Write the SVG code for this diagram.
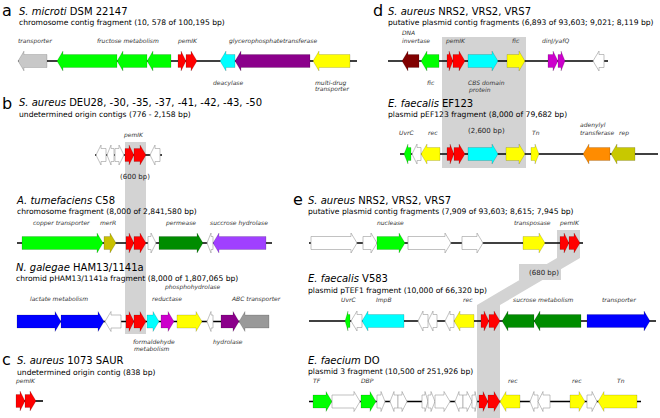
<svg xmlns="http://www.w3.org/2000/svg" width="660" height="418" viewBox="0 0 660 418">
<style>
text{font-family:"DejaVu Sans","Liberation Sans",sans-serif;}
.L{font-size:16px;fill:#000;}
.t{font-size:10px;fill:#000;}
.s{font-size:7.6px;fill:#000;}
.g{font-size:6px;font-style:italic;fill:#333;}
.bp{font-size:7px;fill:#222;}
.i{font-style:italic;}
.ln{stroke:#000;stroke-width:1.6;}
.band{fill:#d3d3d3;}
path{stroke:#000;stroke-opacity:0.25;stroke-width:0.6;}
.w{fill:#fff;stroke:#999;stroke-opacity:1;}
.gr{fill:#00ff00;}
.rd{fill:#ff0000;}
.cy{fill:#00ffff;}
.pu{fill:#8b008b;}
.ye{fill:#ffff00;}
.lg{fill:#c8c8c8;}
.dg{fill:#999;}
.ol{fill:#c8c000;}
.ol2{fill:#c8c800;}
.vi{fill:#a040ff;}
.mg{fill:#cc00cc;}
.bl{fill:#0000ff;}
.dgr{fill:#008c00;}
.or{fill:#ff8c00;}
.dr{fill:#800000;}
</style>

<g id="connectors">
<rect class="band" x="125" y="142" width="21" height="192"/>
<rect class="band" x="442" y="37" width="84" height="131"/>
<polygon class="band" points="557,230 580,230 580,258 500,305 500,418 477,418 477,305 557,258"/>
<rect class="band" x="519" y="264" width="42" height="16"/>
</g>

<g id="panel-a">
<text class="L" x="2" y="16">a</text>
<text class="t" x="19" y="15"><tspan class="i">S. microti</tspan> DSM 22147</text>
<text class="s" x="19" y="25">chromosome contig fragment (10, 578 of 100,195 bp)</text>
<text class="g" x="18" y="43">transporter</text>
<text class="g" x="97" y="43">fructose metabolism</text>
<text class="g" x="178" y="43">pemIK</text>
<text class="g" x="229" y="43">glycerophosphatetransferase</text>
<text class="g" x="213" y="85">deacylase</text>
<text class="g" x="315" y="85">multi-drug</text>
<text class="g" x="315" y="91">transporter</text>
<g id="track-a" transform="translate(0,61)">
<line class="ln" x1="18" y1="0" x2="357" y2="0"/>
<path class="lg" d="M47 -6.5H24V-10L18 0L24 10V6.5H47Z"/>
<path class="gr" d="M117 -6.5H63V-10L57 0L63 10V6.5H117Z"/>
<path class="gr" d="M147 -6.5H123V-10L117 0L123 10V6.5H147Z"/>
<path class="gr" d="M171 -6.5H153V-10L147 0L153 10V6.5H171Z"/>
<path class="rd" d="M178 -6.5H181V-10L186 0L181 10V6.5H178Z"/>
<path class="rd" d="M186 -6.5H191V-10L197 0L191 10V6.5H186Z"/>
<path class="cy" d="M235 -6.5H226V-10L220 0L226 10V6.5H235Z"/>
<path class="pu" d="M310 -6.5H241V-10L235 0L241 10V6.5H310Z"/>
<path class="ye" d="M350 -6.5H319V-10L313 0L319 10V6.5H350Z"/>
</g>
</g>

<g id="panel-b">
<text class="L" x="2" y="109">b</text>
<text class="t" x="19" y="106"><tspan class="i">S. aureus</tspan> DEU28, -30, -35, -37, -41, -42, -43, -50</text>
<text class="s" x="19" y="116.5">undetermined origin contigs (776 - 2,158 bp)</text>
<text class="g" x="124" y="136.5">pemIK</text>
<text class="bp" x="120" y="179">(600 bp)</text>
<g id="track-b" transform="translate(0,155)">
<line class="ln" x1="95" y1="0" x2="162" y2="0"/>
<path class="w" d="M106 -6.5H101V-10L96 0L101 10V6.5H106Z"/>
<path class="w" d="M114 -6.5H111V-10L107 0L111 10V6.5H114Z"/>
<path class="w" d="M115 -6.5H119V-10L124 0L119 10V6.5H115Z"/>
<path class="rd" d="M125 -6.5H129V-10L134 0L129 10V6.5H125Z"/>
<path class="rd" d="M134 -6.5H140V-10L146 0L140 10V6.5H134Z"/>
<path class="w" d="M160 -6.5H155V-10L150 0L155 10V6.5H160Z"/>
</g>
</g>

<g id="panel-b-atum">
<text class="t" x="17" y="204"><tspan class="i">A. tumefaciens</tspan> C58</text>
<text class="s" x="17" y="214">chromosome fragment (8,000 of 2,841,580 bp)</text>
<text class="g" x="33" y="225">copper transporter</text>
<text class="g" x="100" y="225">merR</text>
<text class="g" x="166" y="225">permease</text>
<text class="g" x="210" y="225">succrose hydrolase</text>
<g id="track-atum" transform="translate(0,243)">
<line class="ln" x1="17" y1="0" x2="272" y2="0"/>
<path class="gr" d="M22 -6.5H97V-10L103 0L97 10V6.5H22Z"/>
<path class="ol" d="M104 -6.5H110V-10L116 0L110 10V6.5H104Z"/>
<path class="rd" d="M126 -6.5H129V-10L134 0L129 10V6.5H126Z"/>
<path class="rd" d="M134 -6.5H140V-10L146 0L140 10V6.5H134Z"/>
<path class="w" d="M148 -6.5H151V-10L156 0L151 10V6.5H148Z"/>
<path class="dgr" d="M159 -6.5H197V-10L203 0L197 10V6.5H159Z"/>
<path class="w" d="M213 -6.5H211V-10L207 0L211 10V6.5H213Z"/>
<path class="vi" d="M266 -6.5H219V-10L213 0L219 10V6.5H266Z"/>
</g>
</g>

<g id="panel-b-ngal">
<text class="t" x="16" y="270.5"><tspan class="i">N. galegae</tspan> HAM13/1141a</text>
<text class="s" x="16" y="281">chromid pHAM13/1141a fragment (8,000 of 1,807,065 bp)</text>
<text class="g" x="165" y="288.5">phosphohydrolase</text>
<text class="g" x="30" y="300.5">lactate metabolism</text>
<text class="g" x="152" y="300.5">reductase</text>
<text class="g" x="232" y="300.5">ABC transporter</text>
<text class="g" x="133" y="343.5">formaldehyde</text>
<text class="g" x="134" y="350.5">metabolism</text>
<text class="g" x="213" y="343.5">hydrolase</text>
<g id="track-ngal" transform="translate(0,321.5)">
<line class="ln" x1="17" y1="0" x2="269" y2="0"/>
<path class="bl" d="M17 -6.5H55V-10L61 0L55 10V6.5H17Z"/>
<path class="bl" d="M61 -6.5H98V-10L104 0L98 10V6.5H61Z"/>
<path class="w" d="M121 -6.5H111V-10L105 0L111 10V6.5H121Z"/>
<path class="rd" d="M126 -6.5H129V-10L134 0L129 10V6.5H126Z"/>
<path class="rd" d="M134 -6.5H140V-10L146 0L140 10V6.5H134Z"/>
<path class="cy" d="M147 -6.5H153V-10L159 0L153 10V6.5H147Z"/>
<path class="mg" d="M161 -6.5H168V-10L174 0L168 10V6.5H161Z"/>
<path class="ye" d="M177 -6.5H196V-10L202 0L196 10V6.5H177Z"/>
<path class="w" d="M213 -6.5H211V-10L207 0L211 10V6.5H213Z"/>
<path class="pu" d="M221 -6.5H233V-10L239 0L233 10V6.5H221Z"/>
<path class="dg" d="M269 -6.5H245V-10L239 0L245 10V6.5H269Z"/>
</g>
</g>

<g id="panel-c">
<text class="L" x="2" y="365">c</text>
<text class="t" x="17" y="364"><tspan class="i">S. aureus</tspan> 1073 SAUR</text>
<text class="s" x="17" y="375">undetermined origin contig (838 bp)</text>
<text class="g" x="16" y="382.5">pemIK</text>
<g id="track-c" transform="translate(0,401)">
<line class="ln" x1="16" y1="0" x2="43" y2="0"/>
<path class="rd" d="M16 -6.5H20V-10L25 0L20 10V6.5H16Z"/>
<path class="rd" d="M25 -6.5H30V-10L36 0L30 10V6.5H25Z"/>
</g>
</g>

<g id="panel-d">
<text class="L" x="373" y="16">d</text>
<text class="t" x="388" y="15"><tspan class="i">S. aureus</tspan> NRS2, VRS2, VRS7</text>
<text class="s" x="388" y="25">putative plasmid contig fragments (6,893 of 93,603; 9,021; 8,119 bp)</text>
<text class="g" x="402" y="35">DNA</text>
<text class="g" x="402" y="43">invertase</text>
<text class="g" x="446" y="43">pemIK</text>
<text class="g" x="512" y="43">fic</text>
<text class="g" x="542" y="43">dinJ/yafQ</text>
<text class="g" x="427" y="85">fic</text>
<text class="g" x="468" y="85">CBS domain</text>
<text class="g" x="469" y="92">protein</text>
<g id="track-d" transform="translate(0,61)">
<line class="ln" x1="388" y1="0" x2="608" y2="0"/>
<path class="dr" d="M419 -6.5H408V-10L402 0L408 10V6.5H419Z"/>
<path class="gr" d="M439 -6.5H427V-10L421 0L427 10V6.5H439Z"/>
<path class="rd" d="M447 -6.5H449V-10L453 0L449 10V6.5H447Z"/>
<path class="rd" d="M453 -6.5H459V-10L465 0L459 10V6.5H453Z"/>
<path class="cy" d="M468 -6.5H492V-10L498 0L492 10V6.5H468Z"/>
<path class="ye" d="M507 -6.5H519V-10L525 0L519 10V6.5H507Z"/>
<path class="mg" d="M548 -6.5H553V-10L558 0L553 10V6.5H548Z"/>
<path class="mg" d="M558 -6.5H561V-10L565 0L561 10V6.5H558Z"/>
<path class="w" d="M604 -6.5H599V-10L593 0L599 10V6.5H604Z"/>
</g>
</g>

<g id="panel-d-ef123">
<text class="t" x="388" y="107"><tspan class="i">E. faecalis</tspan> EF123</text>
<text class="s" x="388" y="117">plasmid pEF123 fragment (8,000 of 79,682 bp)</text>
<text class="bp" x="468" y="133">(2,600 bp)</text>
<text class="g" x="399" y="135">UvrC</text>
<text class="g" x="428" y="135">rec</text>
<text class="g" x="532" y="135">Tn</text>
<text class="g" x="580" y="127">adenylyl</text>
<text class="g" x="580" y="135">transferase</text>
<text class="g" x="619" y="135">rep</text>
<g id="track-ef123" transform="translate(0,154)">
<line class="ln" x1="400" y1="0" x2="658" y2="0"/>
<path class="gr" d="M411 -6.5H408V-10L404 0L408 10V6.5H411Z"/>
<path class="w" d="M421 -6.5H417V-10L412 0L417 10V6.5H421Z"/>
<path class="ye" d="M440 -6.5H427V-10L421 0L427 10V6.5H440Z"/>
<path class="rd" d="M447 -6.5H450V-10L454 0L450 10V6.5H447Z"/>
<path class="rd" d="M454 -6.5H459V-10L465 0L459 10V6.5H454Z"/>
<path class="cy" d="M468 -6.5H492V-10L498 0L492 10V6.5H468Z"/>
<path class="ye" d="M506 -6.5H519V-10L525 0L519 10V6.5H506Z"/>
<path class="ye" d="M531 -6.5H535V-10L539 0L535 10V6.5H531Z"/>
<path class="or" d="M610 -6.5H589V-10L583 0L589 10V6.5H610Z"/>
<path class="ol2" d="M635 -6.5H617V-10L611 0L617 10V6.5H635Z"/>
</g>
</g>

<g id="panel-e">
<text class="L" x="293" y="205">e</text>
<text class="t" x="308" y="204"><tspan class="i">S. aureus</tspan> NRS2, VRS2, VRS7</text>
<text class="s" x="308" y="214">putative plasmid contig fragments (7,909 of 93,603; 8,615; 7,945 bp)</text>
<text class="g" x="377" y="225">nuclease</text>
<text class="g" x="514" y="225">transposase</text>
<text class="g" x="560" y="225">pemIK</text>
<text class="bp" x="529" y="275">(680 bp)</text>
<g id="track-e" transform="translate(0,243)">
<line class="ln" x1="309" y1="0" x2="583" y2="0"/>
<path class="w" d="M311 -6.5H351V-10L357 0L351 10V6.5H311Z"/>
<path class="w" d="M363 -6.5H371V-10L377 0L371 10V6.5H363Z"/>
<path class="gr" d="M377 -6.5H399V-10L405 0L399 10V6.5H377Z"/>
<path class="w" d="M408 -6.5H445V-10L451 0L445 10V6.5H408Z"/>
<path class="w" d="M462 -6.5H477V-10L483 0L477 10V6.5H462Z"/>
<path class="ye" d="M523 -6.5H539V-10L545 0L539 10V6.5H523Z"/>
<path class="rd" d="M560 -6.5H564V-10L569 0L564 10V6.5H560Z"/>
<path class="rd" d="M569 -6.5H574V-10L580 0L574 10V6.5H569Z"/>
</g>
</g>

<g id="panel-e-v583">
<text class="t" x="308" y="282"><tspan class="i">E. faecalis</tspan> V583</text>
<text class="s" x="308" y="292.5">plasmid pTEF1 fragment (10,000 of 66,320 bp)</text>
<text class="g" x="341" y="301.5">UvrC</text>
<text class="g" x="376" y="301.5">ImpB</text>
<text class="g" x="463" y="301.5">rec</text>
<text class="g" x="513" y="301.5">sucrose metabolism</text>
<text class="g" x="602" y="301.5">transporter</text>
<g id="track-v583" transform="translate(0,321)">
<line class="ln" x1="309" y1="0" x2="656" y2="0"/>
<path class="gr" d="M350 -6.5H348V-10L345 0L348 10V6.5H350Z"/>
<path class="w" d="M362 -6.5H357V-10L351 0L357 10V6.5H362Z"/>
<path class="cy" d="M404 -6.5H368V-10L362 0L368 10V6.5H404Z"/>
<path class="w" d="M428 -6.5H423V-10L418 0L423 10V6.5H428Z"/>
<path class="w" d="M437 -6.5H433V-10L428 0L433 10V6.5H437Z"/>
<path class="w" d="M454 -6.5H450V-10L445 0L450 10V6.5H454Z"/>
<path class="ye" d="M474 -6.5H460V-10L454 0L460 10V6.5H474Z"/>
<path class="rd" d="M481 -6.5H484V-10L489 0L484 10V6.5H481Z"/>
<path class="rd" d="M489 -6.5H494V-10L500 0L494 10V6.5H489Z"/>
<path class="dgr" d="M534 -6.5H508V-10L502 0L508 10V6.5H534Z"/>
<path class="dgr" d="M581 -6.5H540V-10L534 0L540 10V6.5H581Z"/>
<path class="bl" d="M587 -6.5H644V-10L650 0L644 10V6.5H587Z"/>
</g>
</g>

<g id="panel-e-do">
<text class="t" x="308" y="364"><tspan class="i">E. faecium</tspan> DO</text>
<text class="s" x="308" y="374">plasmid 3 fragment (10,500 of 251,926 bp)</text>
<text class="g" x="313" y="383">TF</text>
<text class="g" x="361" y="383">DBP</text>
<text class="g" x="508" y="383">rec</text>
<text class="g" x="572" y="383">rec</text>
<text class="g" x="617" y="383">Tn</text>
<g id="track-do" transform="translate(0,401.5)">
<line class="ln" x1="309" y1="0" x2="641" y2="0"/>
<path class="gr" d="M313 -6.5H326V-10L332 0L326 10V6.5H313Z"/>
<path class="w" d="M332 -6.5H354V-10L360 0L354 10V6.5H332Z"/>
<path class="gr" d="M361 -6.5H370V-10L376 0L370 10V6.5H361Z"/>
<path class="w" d="M377 -6.5H381V-10L385 0L381 10V6.5H377Z"/>
<path class="w" d="M398 -6.5H394V-10L390 0L394 10V6.5H398Z"/>
<path class="w" d="M398 -6.5H402V-10L407 0L402 10V6.5H398Z"/>
<path class="w" d="M422 -6.5H425V-10L428 0L425 10V6.5H422Z"/>
<path class="w" d="M428 -6.5H431V-10L435 0L431 10V6.5H428Z"/>
<path class="w" d="M435 -6.5H444V-10L450 0L444 10V6.5H435Z"/>
<path class="w" d="M463 -6.5H459V-10L455 0L459 10V6.5H463Z"/>
<path class="w" d="M463 -6.5H467V-10L472 0L467 10V6.5H463Z"/>
<path class="w" d="M472 -6.5H475V-10L477 0L475 10V6.5H472Z"/>
<path class="rd" d="M479 -6.5H483V-10L488 0L483 10V6.5H479Z"/>
<path class="rd" d="M488 -6.5H494V-10L500 0L494 10V6.5H488Z"/>
<path class="ye" d="M520 -6.5H506V-10L500 0L506 10V6.5H520Z"/>
<path class="w" d="M538 -6.5H534V-10L530 0L534 10V6.5H538Z"/>
<path class="w" d="M550 -6.5H543V-10L538 0L543 10V6.5H550Z"/>
<path class="ye" d="M570 -6.5H579V-10L585 0L579 10V6.5H570Z"/>
<path class="w" d="M587 -6.5H592V-10L597 0L592 10V6.5H587Z"/>
<path class="ye" d="M637 -6.5H604V-10L598 0L604 10V6.5H637Z"/>
</g>
</g>
</svg>
